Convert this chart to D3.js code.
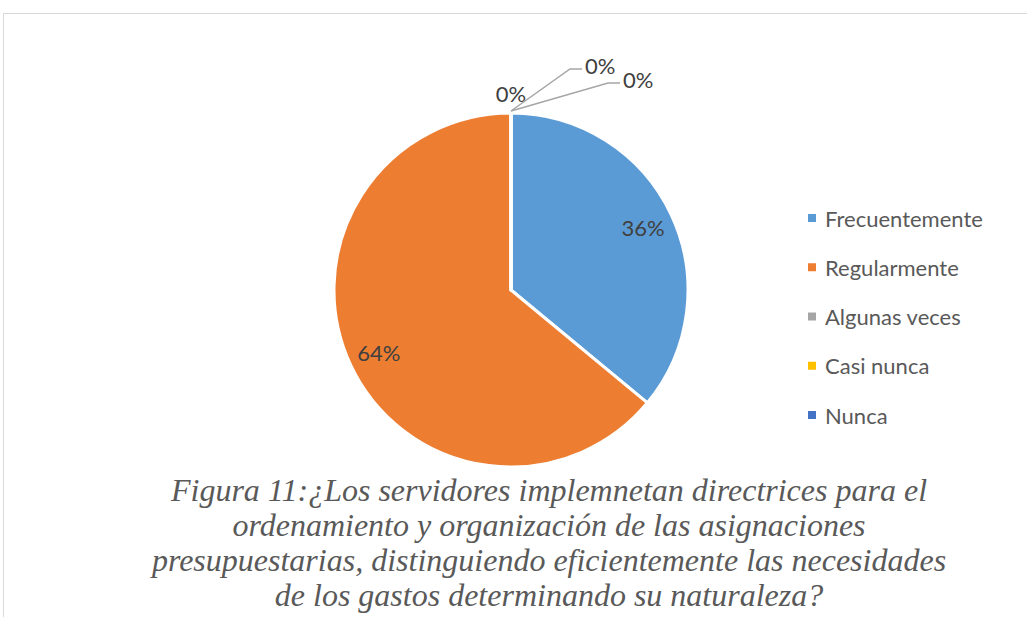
<!DOCTYPE html>
<html><head><meta charset="utf-8">
<script src="https://cdn.jsdelivr.net/npm/d3@7"></script>
<style>html,body{margin:0;padding:0;background:#fff;}svg{display:block;}</style>
</head><body>
<svg id="c" width="1027" height="617"></svg>
<script>
const categories = ["Frecuentemente","Regularmente","Algunas veces","Casi nunca","Nunca"];
const values = [9,16,0,0,0];
const colors = ["#5b9bd5","#ed7d31","#a5a5a5","#ffc000","#4472c4"];
const captionLines = [
  "Figura 11:¿Los servidores implemnetan directrices para el",
  "ordenamiento y organización de las asignaciones",
  "presupuestarias, distinguiendo eficientemente las necesidades",
  "de los gastos determinando su naturaleza?"
];

const svg = d3.select("#c");
svg.append("rect").attr("x",3.5).attr("y",13.5).attr("width",1040).attr("height",620)
  .attr("fill","#fff").attr("stroke","#d9d9d9").attr("stroke-width",1);

const cx = 511, cy = 290, R = 177;
const total = d3.sum(values);
const pie = d3.pie().sort(null).value(d=>d)(values);
const arc = d3.arc().innerRadius(0).outerRadius(R);
const g = svg.append("g").attr("transform",`translate(${cx},${cy})`);
g.selectAll("path").data(pie).join("path")
  .attr("d",arc).attr("fill",(d,i)=>colors[i])
  .attr("stroke","#fff").attr("stroke-width",3).attr("stroke-linejoin","round");

const fmt = d3.format(".0%");
const labelFont = "Lato, 'Open Sans', sans-serif";
const fs = 22;
const inner = d3.arc().innerRadius(146).outerRadius(146);
pie.forEach((d,i)=>{
  if (d.value>0){
    const [x,y] = inner.centroid(d);
    g.append("text").attr("x",x).attr("y",y).attr("text-anchor","middle").attr("dominant-baseline","central")
      .attr("font-family",labelFont).attr("font-size",fs).attr("fill","#404040")
      .text(fmt(d.value/total));
  }
});
const zeroOffsets = [null,null,{dx:0,dy:-20,leader:false},{dx:71,dy:-44,leader:true},{dx:109,dy:-30,leader:true}];
pie.forEach((d,i)=>{
  if (d.value===0){
    const a = d.startAngle;
    const px = R*Math.sin(a), py = -R*Math.cos(a);
    const o = zeroOffsets[i];
    if (o.leader){
      const ex = px+o.dx-12, ey = py+o.dy;
      g.append("polyline").attr("points",`${px},${py-2} ${ex},${ey} ${px+o.dx},${ey}`)
        .attr("fill","none").attr("stroke","#a6a6a6").attr("stroke-width",1.5);
      g.append("text").attr("x",px+o.dx+3).attr("y",ey-4).attr("dominant-baseline","central")
        .attr("font-family",labelFont).attr("font-size",fs).attr("fill","#404040").text(fmt(0));
    } else {
      g.append("text").attr("x",px+o.dx).attr("y",py+o.dy).attr("text-anchor","middle").attr("dominant-baseline","central")
        .attr("font-family",labelFont).attr("font-size",fs).attr("fill","#404040").text(fmt(0));
    }
  }
});

const leg = svg.append("g");
const ly = d3.scalePoint().domain(categories).range([218,415]);
categories.forEach((c,i)=>{
  leg.append("rect").attr("x",808).attr("y",ly(c)-4).attr("width",8).attr("height",8).attr("fill",colors[i]);
  leg.append("text").attr("x",825).attr("y",ly(c)).attr("dominant-baseline","central")
    .attr("font-family",labelFont).attr("font-size",fs).attr("fill","#595959").text(c);
});

const cap = svg.append("g");
captionLines.forEach((t,i)=>{
  cap.append("text").attr("x",549).attr("y",501+i*35).attr("text-anchor","middle")
    .attr("font-family","'Liberation Serif', 'Times New Roman', serif").attr("font-style","italic")
    .attr("font-size",32).attr("fill","#595959").text(t);
});
</script>
</body></html>
